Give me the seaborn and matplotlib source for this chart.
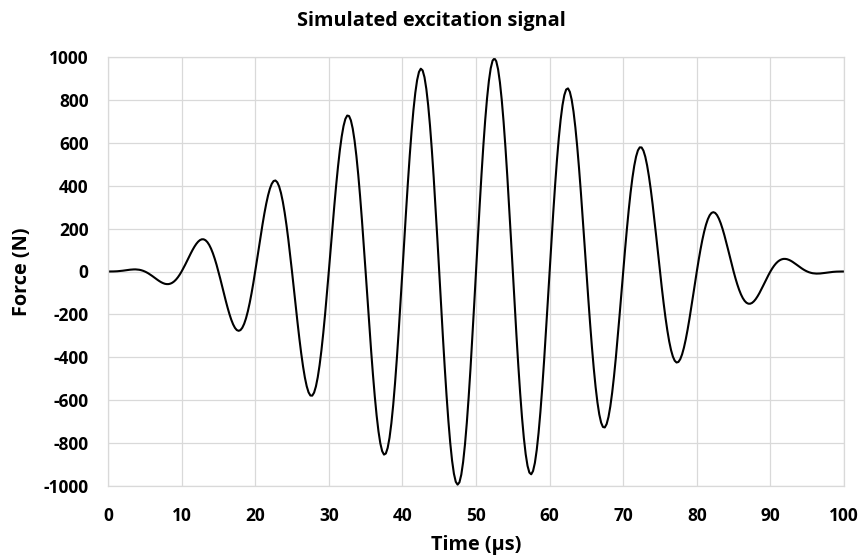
import numpy as np
import pandas as pd
import matplotlib
matplotlib.use("Agg")
import matplotlib.pyplot as plt
import seaborn as sns

# Excitation force (N), sampled every 0.25 µs
force_0_to_50us = [
    0, 0.0, 0.1, 0.3, 0.6, 1.1, 1.8, 2.7, 3.7, 5.0, 6.2, 7.4, 8.4, 9.3, 9.7, 9.8, 9.2, 8.1, 6.1, 3.5,
    0, -4.2, -9.1, -14.7, -20.6, -27.0, -33.3, -39.5, -45.3, -50.4, -54.5, -57.5, -58.8, -58.6, -56.3, -52.1, -45.8, -37.3, -26.7, -14.2,
    0, 15.7, 32.4, 49.9, 67.4, 84.7, 101.1, 116.0, 128.9, 139.2, 146.5, 150.2, 150.0, 145.7, 137.0, 124.0, 106.6, 85.1, 59.8, 31.3,
    0, -33.2, -67.7, -102.4, -136.4, -168.8, -198.6, -224.8, -246.4, -262.8, -273.0, -276.6, -273.1, -262.2, -243.9, -218.3, -185.7, -146.8, -102.2, -52.9,
    0, 55.2, 111.4, 167.1, 220.8, 271.0, 316.3, 355.2, 386.4, 408.9, 421.8, 424.3, 415.9, 396.6, 366.4, 325.8, 275.4, 216.3, 149.6, 77.0,
    0, -79.4, -159.4, -237.7, -312.4, -381.3, -442.6, -494.4, -535.2, -563.4, -578.2, -578.7, -564.7, -535.8, -492.7, -436.1, -367.0, -286.9, -197.6, -101.2,
    0, 103.5, 206.8, 307.2, 402.1, 488.8, 565.1, 628.8, 678.0, 711.1, 727.0, 724.9, 704.6, 666.2, 610.4, 538.3, 451.4, 351.6, 241.3, 123.2,
    0, -125.2, -249.2, -368.9, -481.2, -583.1, -672.0, -745.3, -801.1, -837.5, -853.6, -848.4, -822.2, -775.0, -707.9, -622.4, -520.4, -404.1, -276.6, -140.8,
    0, 142.2, 282.3, 416.7, 542.0, 655.0, 752.7, 832.4, 892.3, 930.2, 945.5, 937.3, 905.8, 851.5, 775.7, 680.2, 567.2, 439.3, 299.9, 152.2,
    0, -153.0, -302.9, -445.9, -578.6, -697.3, -799.3, -881.7, -942.7, -980.3, -993.8, -982.7, -947.4, -888.3, -807.2, -706.0, -587.2, -453.7, -308.9, -156.4,
    0,
]
force_after_50us = [
    156.4, 308.9, 453.7, 587.2, 706.0, 807.2, 888.3, 947.4, 982.7, 993.8, 980.3, 942.7, 881.7, 799.3, 697.3, 578.6, 445.9, 302.9, 153.0, 0,
    -152.2, -299.9, -439.3, -567.2, -680.2, -775.7, -851.5, -905.8, -937.3, -945.5, -930.2, -892.3, -832.4, -752.7, -655.0, -542.0, -416.7, -282.3, -142.2, 0,
    140.8, 276.6, 404.1, 520.4, 622.4, 707.9, 775.0, 822.2, 848.4, 853.6, 837.5, 801.1, 745.3, 672.0, 583.1, 481.2, 368.9, 249.2, 125.2, 0,
    -123.2, -241.3, -351.6, -451.4, -538.3, -610.4, -666.2, -704.6, -724.9, -727.0, -711.1, -678.0, -628.8, -565.1, -488.8, -402.1, -307.2, -206.8, -103.5, 0,
    101.2, 197.6, 286.9, 367.0, 436.1, 492.7, 535.8, 564.7, 578.7, 578.2, 563.4, 535.2, 494.4, 442.6, 381.3, 312.4, 237.7, 159.4, 79.4, 0,
    -77.0, -149.6, -216.3, -275.4, -325.8, -366.4, -396.6, -415.9, -424.3, -421.8, -408.9, -386.4, -355.2, -316.3, -271.0, -220.8, -167.1, -111.4, -55.2, 0,
    52.9, 102.2, 146.8, 185.7, 218.3, 243.9, 262.2, 273.1, 276.6, 273.0, 262.8, 246.4, 224.8, 198.6, 168.8, 136.4, 102.4, 67.7, 33.2, 0,
    -31.3, -59.8, -85.1, -106.6, -124.0, -137.0, -145.7, -150.0, -150.2, -146.5, -139.2, -128.9, -116.0, -101.1, -84.7, -67.4, -49.9, -32.4, -15.7, 0,
    14.2, 26.7, 37.3, 45.8, 52.1, 56.3, 58.6, 58.8, 57.5, 54.5, 50.4, 45.3, 39.5, 33.3, 27.0, 20.6, 14.7, 9.1, 4.2, 0,
    -3.5, -6.1, -8.1, -9.2, -9.8, -9.7, -9.3, -8.4, -7.4, -6.2, -5.0, -3.7, -2.7, -1.8, -1.1, -0.6, -0.3, -0.1, 0.0, 0,
]
time_us = np.linspace(0, 100, 401)
x_ticks = list(range(0, 101, 10))
y_ticks = list(range(-1000, 1001, 200))

df = pd.DataFrame({"time": time_us,
                   "force": force_0_to_50us + force_after_50us})

sns.set_theme(style="whitegrid")
plt.rcParams["font.family"] = ["Open Sans", "DejaVu Sans"]
plt.rcParams["text.color"] = "black"

W, H = 863, 558
fig = plt.figure(figsize=(W / 100, H / 100), dpi=100)
ax = fig.add_axes([108 / W, 1 - 486 / H, (844 - 108) / W, (486 - 57) / H])

sns.lineplot(data=df, x="time", y="force", ax=ax, color="black",
             linewidth=1.5)

ax.set_xlim(0, 100)
ax.set_ylim(-1000, 1000)
ax.set_xticks(x_ticks)
ax.set_yticks(y_ticks)
ax.set_xticklabels([str(v) for v in x_ticks], fontsize=12.5, fontweight="bold")
ax.set_yticklabels([str(v) for v in y_ticks], fontsize=12.5, fontweight="bold")
ax.tick_params(axis="x", length=0, pad=15, colors="black")
ax.tick_params(axis="y", length=0, pad=14, colors="black")
ax.grid(True, color="#d9d9d9", linewidth=0.9)
for s in ax.spines.values():
    s.set_color("#d9d9d9")
    s.set_linewidth(0.9)
ax.set_xlabel("")
ax.set_ylabel("")

fig.text(476 / W, 1 - 545 / H, "Time (µs)", ha="center", va="center",
         fontsize=14.3, fontweight="bold", color="black")
fig.text(22 / W, 1 - 272 / H, "Force (N)", ha="center", va="center",
         rotation=90, fontsize=14.3, fontweight="bold", color="black")
fig.text(431 / W, 1 - 21 / H, "Simulated excitation signal", ha="center",
         va="center", fontsize=14.3, fontweight="bold", color="black")

fig.savefig("out.png", dpi=100, facecolor="white")
